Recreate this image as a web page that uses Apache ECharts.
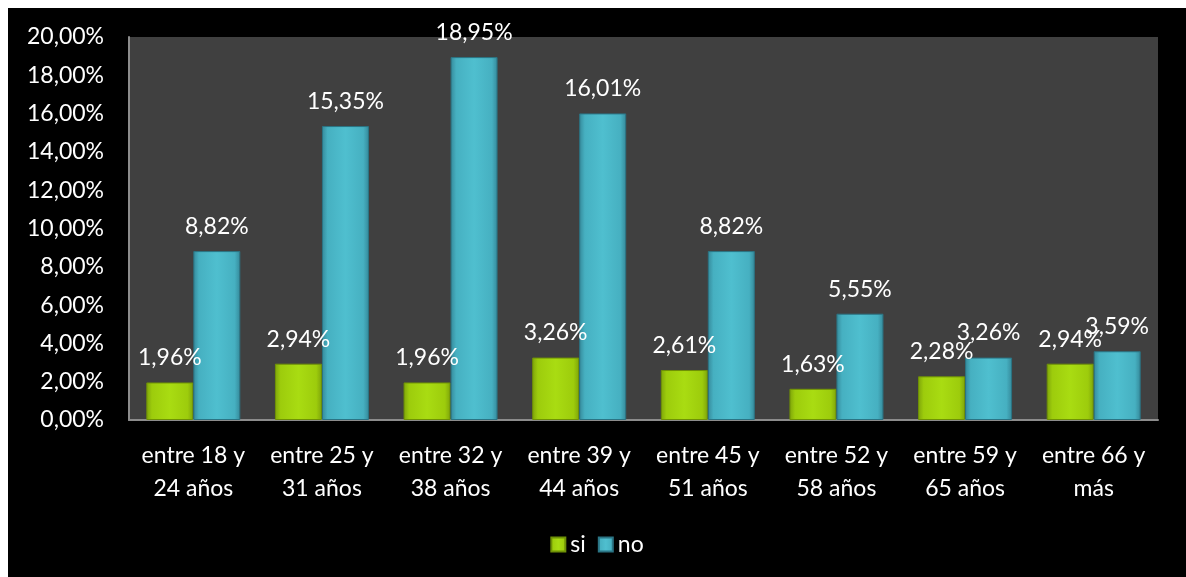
<!DOCTYPE html>
<html><head><meta charset="utf-8">
<script src="https://cdn.jsdelivr.net/npm/echarts@6/dist/echarts.min.js"></script>
<style>
html,body{margin:0;padding:0;background:#fff;width:1186px;height:577px;overflow:hidden;}
#c{position:absolute;left:8px;top:8px;width:1178px;height:569px;background:#000;}
</style></head><body>
<div id="c"></div>
<script>
const categories = ['entre 18 y\n24 años','entre 25 y\n31 años','entre 32 y\n38 años','entre 39 y\n44 años','entre 45 y\n51 años','entre 52 y\n58 años','entre 59 y\n65 años','entre 66 y\nmás'];
const siValues = [1.96, 2.94, 1.96, 3.26, 2.61, 1.63, 2.28, 2.94];
const noValues = [8.82, 15.35, 18.95, 16.01, 8.82, 5.55, 3.26, 3.59];
const seriesNames = ['si', 'no'];

const FONT = 'Lato';
const FS = 23;
const fmt = v => v.toFixed(2).replace('.', ',') + '%';
function grad(c1, c2, c3) {
  return new echarts.graphic.LinearGradient(0, 0, 1, 0, [
    {offset: 0, color: c3}, {offset: 0.12, color: c2}, {offset: 0.5, color: c1},
    {offset: 0.88, color: c2}, {offset: 1, color: c3}]);
}
const chart = echarts.init(document.getElementById('c'));
chart.setOption({
  backgroundColor: '#000',
  textStyle: {fontFamily: FONT},
  grid: {left: 121, top: 29, right: 28, bottom: 157, show: true, backgroundColor: '#404040', borderWidth: 0, containLabel: false},
  legend: {
    bottom: 16, left: 'center', itemWidth: 14, itemHeight: 14, itemGap: 12,
    icon: 'rect',
    textStyle: {color: '#fff', fontSize: FS, fontFamily: FONT},
    data: seriesNames
  },
  xAxis: {
    type: 'category', data: categories,
    axisLine: {lineStyle: {color: '#8c8c8c', width: 2}},
    axisTick: {show: false},
    axisLabel: {color: '#fff', fontSize: FS, lineHeight: 33, margin: 19, interval: 0, fontFamily: FONT}
  },
  yAxis: {
    type: 'value', min: 0, max: 20, interval: 2,
    axisLine: {show: true, lineStyle: {color: '#8c8c8c', width: 2}},
    axisTick: {show: false},
    splitLine: {show: false},
    axisLabel: {color: '#fff', fontSize: FS, margin: 25, formatter: fmt, fontFamily: FONT}
  },
  series: [
    {name: seriesNames[0], type: 'bar', data: siValues, barWidth: 47, barGap: '0%',
     itemStyle: {color: grad('#a9dc12', '#9dcc0c', '#7ea40a'), borderColor: '#6f9106', borderWidth: 1},
     label: {show: true, position: 'top', distance: 13, color: '#fff', fontSize: FS, formatter: p => fmt(p.value), fontFamily: FONT}},
    {name: seriesNames[1], type: 'bar', data: noValues, barWidth: 47,
     itemStyle: {color: grad('#4fbfcf', '#46b0c1', '#35899a'), borderColor: '#2b7484', borderWidth: 1},
     label: {show: true, position: 'top', distance: 13, color: '#fff', fontSize: FS, formatter: p => fmt(p.value), fontFamily: FONT}}
  ]
});
</script>
</body></html>
